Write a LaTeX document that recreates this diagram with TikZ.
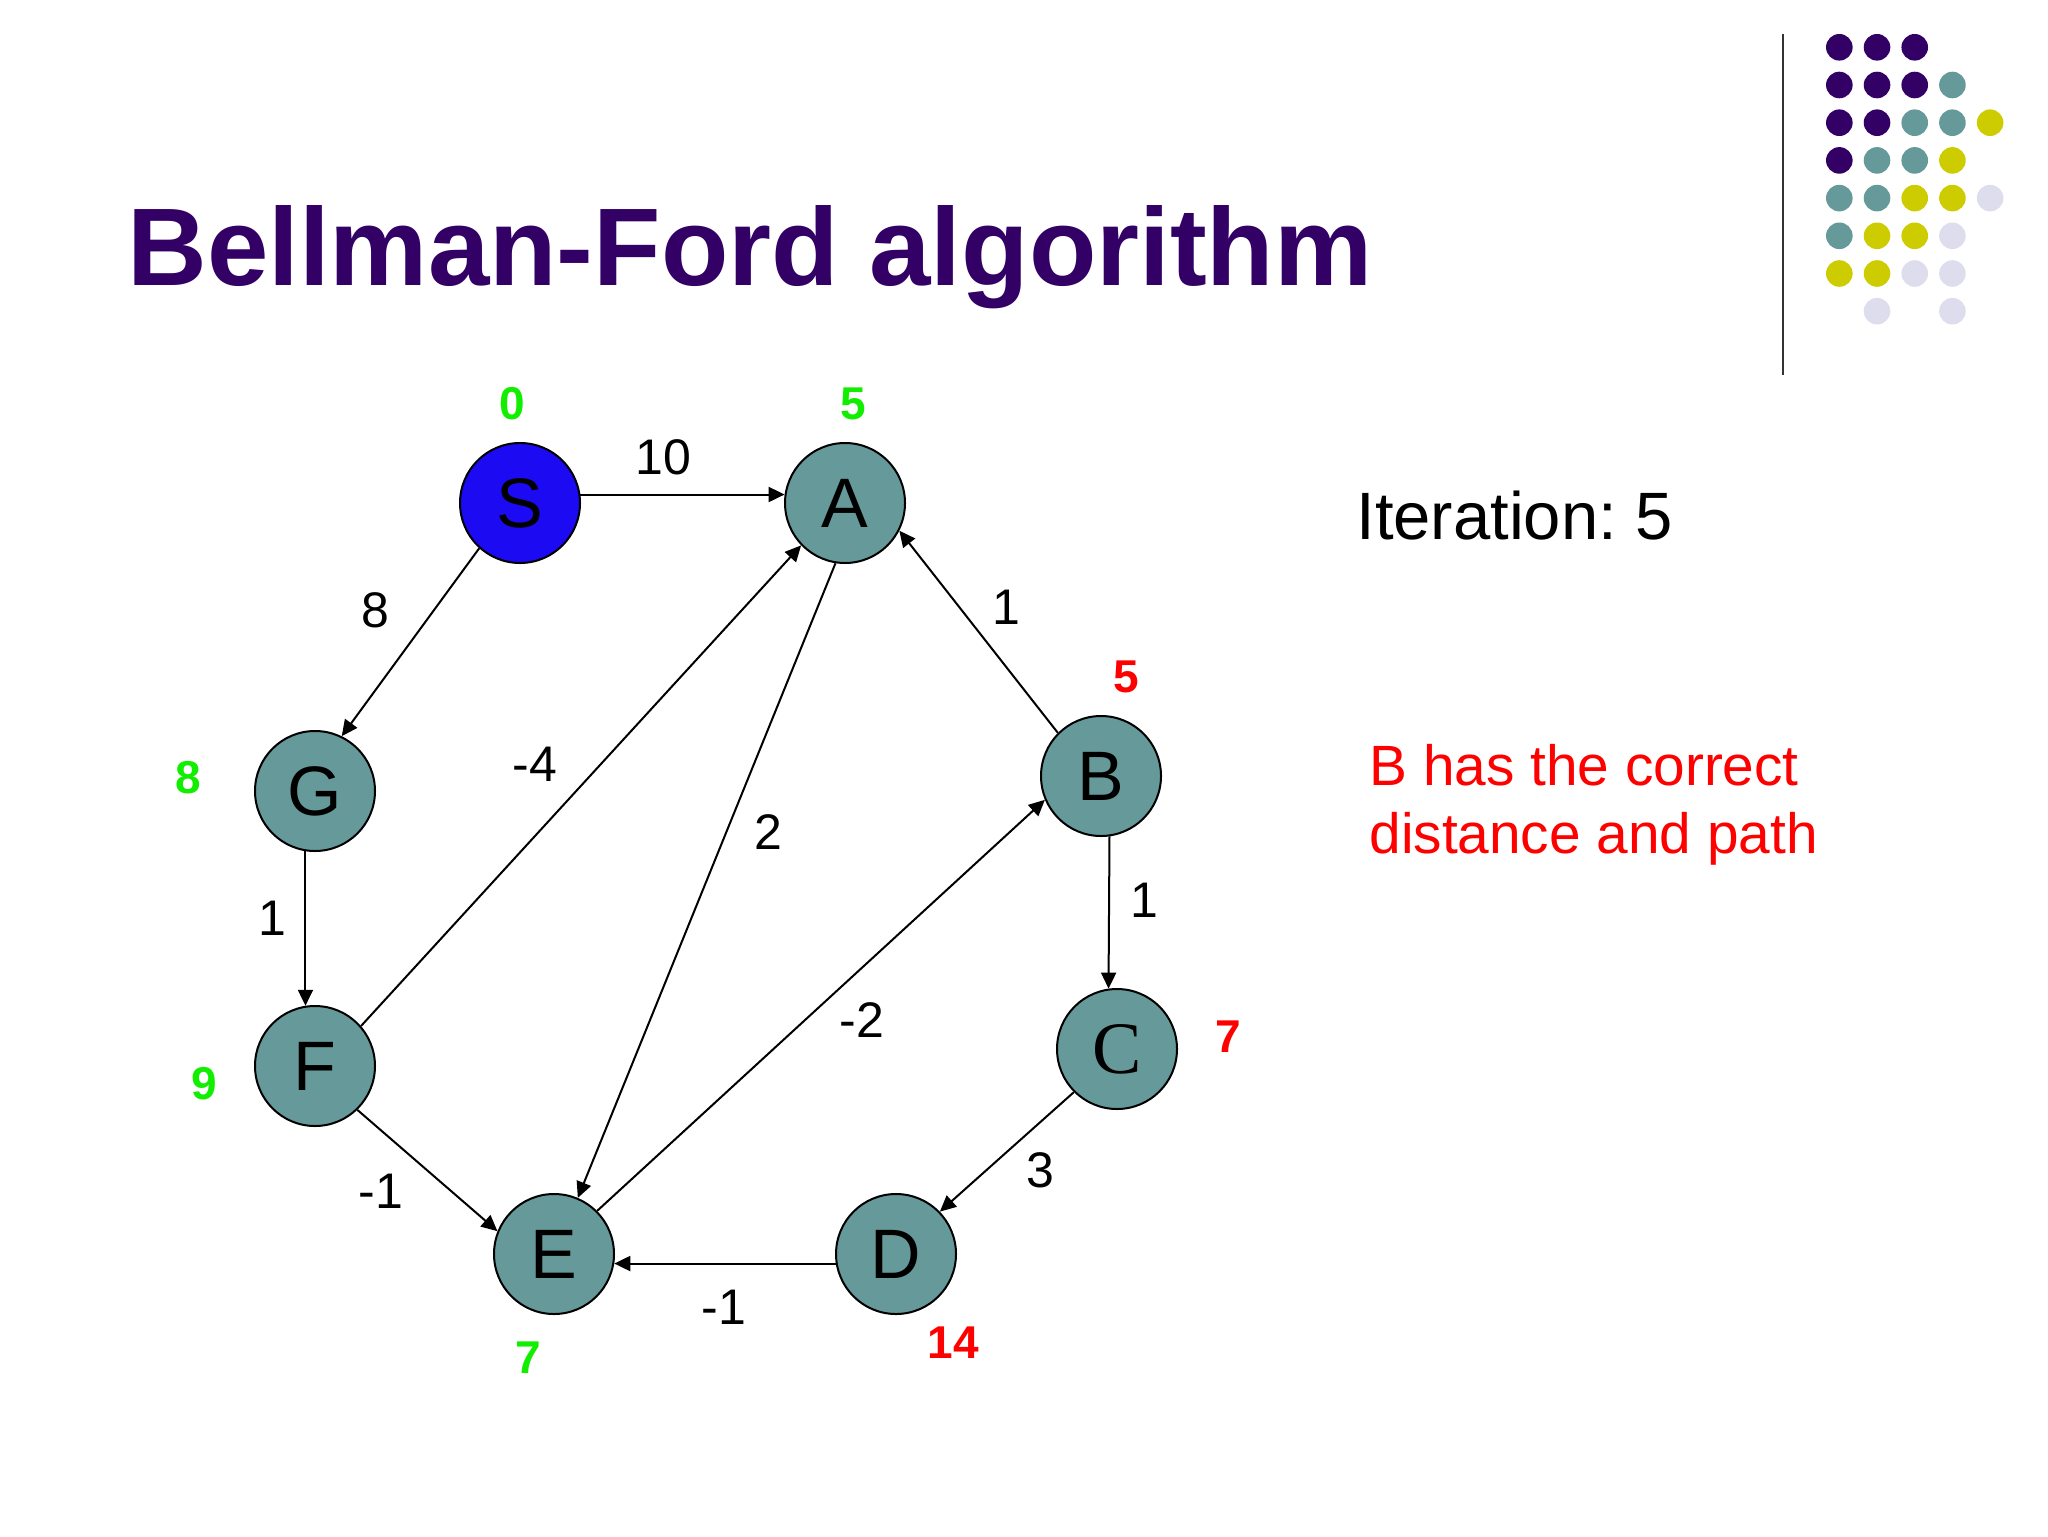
\documentclass[tikz,border=0pt]{standalone}
\usepackage{fontspec}
\setmainfont{Liberation Sans}
\newfontfamily\serifletter{Liberation Serif}
\usetikzlibrary{arrows.meta}
\definecolor{titlepurple}{HTML}{330066}
\definecolor{nodeteal}{HTML}{669999}
\definecolor{sourceblue}{HTML}{1C0AF2}
\definecolor{distgreen}{HTML}{11EE00}
\definecolor{distred}{HTML}{FF0000}
\definecolor{dotyellow}{HTML}{CCCC00}
\definecolor{dotlilac}{HTML}{DDDDEE}
\frenchspacing
\begin{document}
\begin{tikzpicture}[x=0.5pt, y=-0.5pt, >={Triangle[length=8pt,width=7.5pt]},
  vertex/.style={circle, draw=black, line width=1pt, fill=nodeteal, minimum size=60pt, inner sep=0pt, font=\fontsize{35}{35}\selectfont},
  edge/.style={->, line width=1pt},
  wlabel/.style={font=\fontsize{25}{25}\selectfont},
  dist/.style={font=\fontsize{23}{23}\selectfont\bfseries},
  greendist/.style={dist, text=distgreen},
  reddist/.style={dist, text=distred}]
\useasboundingbox (0,0) rectangle (2048,1536);
% Title
\node[anchor=base west, inner sep=0pt, text=titlepurple, font=\fontsize{55.2}{55}\selectfont\bfseries] (title) at (127,285) {Bellman-Ford algorithm};
% Corner decoration
\draw[line width=1.3pt, color=black!80] (1783,34) -- (1783,375);
\foreach \row/\cols in {1/{1/titlepurple,2/titlepurple,3/titlepurple},
    2/{1/titlepurple,2/titlepurple,3/titlepurple,4/nodeteal},
    3/{1/titlepurple,2/titlepurple,3/nodeteal,4/nodeteal,5/dotyellow},
    4/{1/titlepurple,2/nodeteal,3/nodeteal,4/dotyellow},
    5/{1/nodeteal,2/nodeteal,3/dotyellow,4/dotyellow,5/dotlilac},
    6/{1/nodeteal,2/dotyellow,3/dotyellow,4/dotlilac},
    7/{1/dotyellow,2/dotyellow,3/dotlilac,4/dotlilac},
    8/{2/dotlilac,4/dotlilac}}
  \foreach \col/\clr in \cols
    \fill[\clr] ({1801.6+37.7*\col},{9.6+37.7*\row}) circle[radius=13.3];
% Vertices
\node[vertex, fill=sourceblue] (S) at (520,503) {S};
\node[vertex] (A) at (845,503) {A};
\node[vertex] (G) at (315,791) {G};
\node[vertex] (B) at (1101,776) {B};
\node[vertex] (F) at (315,1066) {F};
\node[vertex, font=\serifletter\fontsize{37}{37}\selectfont] (C) at (1117,1049) {C};
\node[vertex] (E) at (554,1254) {E};
\node[vertex] (D) at (896,1254) {D};
% Edges
\draw[edge] (S.8) -- (A.172);
\draw[edge] (S.228) -- (G.64);
\draw[edge] (G.261) -- (F.99);
\draw[edge] (F.41) -- (A.224);
\draw[edge] (F.-46) -- (E.158);
\draw[edge] (A.261) -- (E.67);
\draw[edge] (E.45) -- (B.203);
\draw[edge] (B.135) -- (A.-27);
\draw[edge] (B.278) -- (C.98);
\draw[edge] (C.225) -- (D.44);
\draw[edge] (D.189) -- (E.-9);
% Edge weights
\node[wlabel] (wSA) at (663,457) {10};
\node[wlabel] (wSG) at (375,610) {8};
\node[wlabel] (wBA) at (1006,607) {1};
\node[wlabel] (wFA) at (535,764) {-4};
\node[wlabel] (wAE) at (768,832) {2};
\node[wlabel] (wGF) at (272,918) {1};
\node[wlabel] (wBC) at (1144,900) {1};
\node[wlabel] (wEB) at (862,1020) {-2};
\node[wlabel] (wFE) at (381,1191) {-1};
\node[wlabel] (wCD) at (1040,1170) {3};
\node[wlabel] (wDE) at (724,1307) {-1};
% Distances
\node[greendist] (dS) at (512,404) {0};
\node[greendist] (dA) at (853,404) {5};
\node[reddist] (dB) at (1126,677) {5};
\node[greendist] (dG) at (188,778) {8};
\node[reddist] (dC) at (1228,1037) {7};
\node[greendist] (dF) at (204,1084) {9};
\node[greendist] (dE) at (528,1358) {7};
\node[reddist] (dD) at (953,1343) {14};
% Notes
\node[anchor=base west, inner sep=0pt, font=\fontsize{33.5}{33.5}\selectfont] (iter) at (1356,539) {Iteration: 5};
\node[anchor=base west, inner sep=0pt, text=distred, font=\fontsize{28.4}{28}\selectfont] (note1) at (1369,785) {B has the correct};
\node[anchor=base west, inner sep=0pt, text=distred, font=\fontsize{28.4}{28}\selectfont] (note2) at (1369,853) {distance and path};
\end{tikzpicture}
\end{document}
